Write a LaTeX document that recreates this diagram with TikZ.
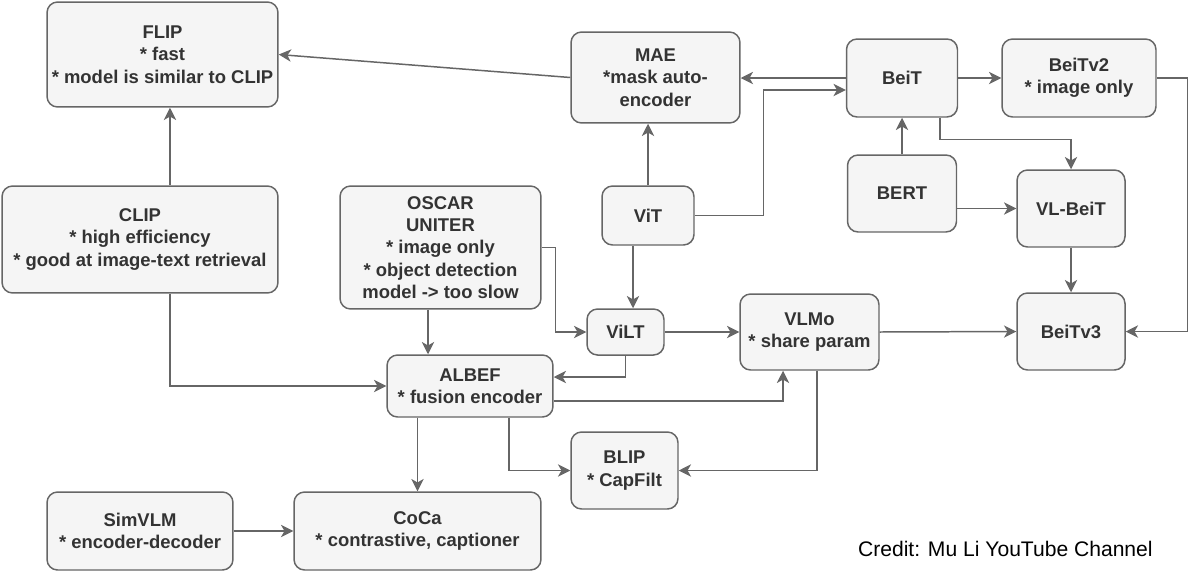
\documentclass[tikz,border=0pt]{standalone}
\usepackage{fontspec}
\setmainfont{Liberation Sans}
\usepackage{tikz}
\usetikzlibrary{arrows.meta, positioning, calc}
\definecolor{boxfill}{HTML}{F5F5F5}
\definecolor{boxline}{HTML}{666666}
\definecolor{boxtext}{HTML}{333333}
\tikzset{
  mbox/.style={draw=boxline, fill=boxfill, rounded corners=6pt, align=center,
               text=boxtext, inner sep=0pt, line width=0.85pt,
               font=\fontsize{10.5}{12.75}\selectfont\bfseries},
  arr/.style={-{Stealth[length=7pt, width=7pt, inset=2pt]}, draw=boxline, line width=0.85pt},
}

\begin{document}
\begin{tikzpicture}[x=0.02cm, y=-0.02cm]
  \useasboundingbox (0,0) rectangle (1200,572);

  % left column
  \node[mbox, minimum width=4.62cm, minimum height=2.10cm] (flip) at (162.5,54.5)
    {FLIP\\* fast\\* model is similar to CLIP};
  \node[mbox, minimum width=5.52cm, minimum height=2.14cm] (clip) at (140,239.5)
    {CLIP\\* high efficiency\\* good at image-text retrieval};
  \node[mbox, minimum width=3.72cm, minimum height=1.56cm] (simvlm) at (140,531)
    {SimVLM\\* encoder-decoder};

  % middle
  \node[mbox, minimum width=4.02cm, minimum height=2.46cm] (oscar) at (440.5,247.5)
    {OSCAR\\UNITER\\* image only\\* object detection\\model -> too slow};
  \node[mbox, minimum width=3.32cm, minimum height=1.24cm] (albef) at (470,386)
    {ALBEF\\* fusion encoder};
  \node[mbox, minimum width=4.94cm, minimum height=1.56cm] (coca) at (417.5,531)
    {CoCa\\* contrastive, captioner};
  \node[mbox, minimum width=3.38cm, minimum height=1.82cm] (mae) at (655.5,77.5)
    {MAE\\*mask auto-\\encoder};
  \node[mbox, minimum width=1.84cm, minimum height=1.18cm] (vit) at (648,215.5) {ViT};
  \node[mbox, minimum width=1.54cm, minimum height=0.92cm] (vilt) at (625.5,332) {ViLT};
  \node[mbox, minimum width=2.14cm, minimum height=1.54cm] (blip) at (624.5,470.5)
    {BLIP\\* CapFilt};
  \node[mbox, minimum width=2.78cm, minimum height=1.52cm] (vlmo) at (809.5,332)
    {VLMo\\* share param};

  % right
  \node[mbox, minimum width=2.22cm, minimum height=1.56cm] (beit) at (902,78) {BeiT};
  \node[mbox, minimum width=2.18cm, minimum height=1.54cm] (bert) at (902,193.5) {BERT};
  \node[mbox, minimum width=3.08cm, minimum height=1.56cm] (beitv2) at (1079,78)
    {BeiTv2\\* image only};
  \node[mbox, minimum width=2.16cm, minimum height=1.54cm] (vlbeit) at (1071,208.5) {VL-BeiT};
  \node[mbox, minimum width=2.16cm, minimum height=1.54cm] (beitv3) at (1071,331.5) {BeiTv3};

  \node[anchor=base east, inner sep=0pt, font=\fontsize{12}{14}\selectfont] (credit) at (1153,556)
    {Credit: Mu Li YouTube Channel};

  % connectors
  \draw[arr] (mae.west) -- (flip.east);
  \draw[arr] ([xshift=0.6cm]clip.north) -- ([xshift=0.6cm]clip.north |- flip.south);
  \draw[arr] ([xshift=0.6cm]clip.south) |- (albef.west);
  \draw[arr] ([xshift=-0.25cm]oscar.south) -- ([xshift=-0.25cm]oscar.south |- albef.north);
  \draw[arr] (oscar.east) -- ++(0.28cm,0) |- (vilt.west);
  \draw[arr] ([xshift=-0.3cm]vit.south) -- ([xshift=-0.3cm]vit.south |- vilt.north);
  \draw[arr] (vilt.south) |- ([yshift=0.18cm]albef.east);
  \draw[arr] (vilt.east) -- (vlmo.west);
  \draw[arr] ([yshift=-0.3cm]albef.east) -| ([xshift=-0.53cm]vlmo.south);
  \draw[arr] (albef.south -| coca.north) -- (coca.north);
  \draw[arr] ([xshift=0.78cm]albef.south) |- (blip.west);
  \draw[arr] ([xshift=0.15cm]vlmo.south) |- (blip.east);
  \draw[arr] (vlmo.east) -- (beitv3.west);
  \draw[arr] (simvlm.east) -- (coca.west);
  \draw[arr] (vit.north) -- (vit.north |- mae.south);
  \draw[arr] (vit.east) -- ++(1.38cm,0) |- ([yshift=-0.24cm]beit.west);
  \draw[arr] (beit.west) -- (beit.west -| mae.east);
  \draw[arr] (bert.north) -- (beit.south);
  \draw[arr] (beit.east) -- (beitv2.west);
  \draw[arr] ([xshift=0.76cm]beit.south) -- ++(0,-0.44cm) -| (vlbeit.north);
  \draw[arr] (bert.east |- vlbeit.west) -- (vlbeit.west);
  \draw[arr] (vlbeit.south) -- (beitv3.north);
  \draw[arr] (beitv2.east) -- ++(0.62cm,0) |- (beitv3.east);
\end{tikzpicture}
\end{document}
